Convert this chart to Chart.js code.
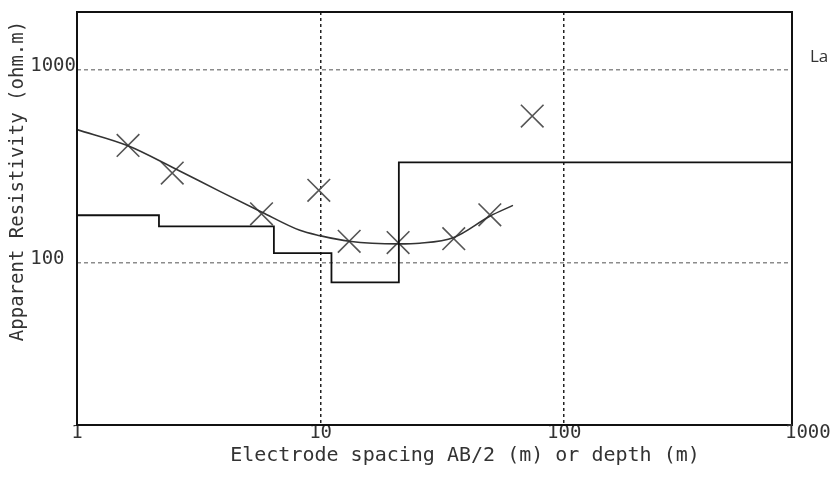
<!DOCTYPE html>
<html>
<head>
<meta charset="utf-8">
<script src="https://cdn.jsdelivr.net/npm/chart.js@4"></script>
<style>
  body { margin: 0; background: #fff; }
  #wrap { width: 834px; height: 487px; }
</style>
</head>
<body>
<div id="wrap"><canvas id="chart" width="834" height="487"></canvas></div>
<script>
// Field data (apparent resistivity vs AB/2)
const crossSpacing = [1.62, 2.46, 5.72, 9.83, 13.1, 20.8, 35.2, 49.5, 73.9]
const crossRho = [405, 291, 179, 237, 129, 127, 133, 177, 575]

// Fitted sounding curve
const curveSpacing = [1, 1.62, 2.46, 3.86, 5.72, 8.22, 9.92, 13.1, 20.8, 25.5, 35.2, 49.5, 61.6]
const curveRho = [489, 403, 312, 234, 183, 147, 138, 129, 125, 126, 135, 174, 198]

// Layer model: top depth of each layer and its resistivity
const layerDepth = [1, 2.17, 6.43, 11.08, 20.95, 1000]
const layerRho = [176, 154, 112, 79, 331, 331]

// Tick labels
const xTicks = [1, 10, 100, 1000]
const yTicks = [100, 1000]

const monoFont = "'DejaVu Sans Mono', monospace"
const textColor = "#333"

const toPoints = (xs, ys) => xs.map((x, i) => ({ x: x, y: ys[i] }))

// Titles, the frame and the tick that falls past the plot edge
const labelsPlugin = {
  id: "labels",
  afterDatasetsDraw(chart) {
    const { ctx, chartArea } = chart
    ctx.save()
    ctx.strokeStyle = "#111"
    ctx.lineWidth = 2
    ctx.strokeRect(chartArea.left, chartArea.top, chartArea.right - chartArea.left, chartArea.bottom - chartArea.top)
    ctx.restore()
  },
  afterDraw(chart) {
    const { ctx } = chart
    const xScale = chart.scales.x
    ctx.save()
    ctx.fillStyle = textColor
    ctx.textAlign = "center"
    ctx.textBaseline = "middle"

    ctx.font = "19px " + monoFont
    xTicks.filter((v) => v > xScale.max).forEach((v) => {
      ctx.fillText(String(v), xScale.getPixelForValue(v), 433)
    })

    ctx.font = "20px " + monoFont
    ctx.fillText("Electrode spacing AB/2 (m) or depth (m)", 465, 456)

    ctx.save()
    ctx.translate(18, 181)
    ctx.rotate(-Math.PI / 2)
    ctx.font = "19px " + monoFont
    ctx.fillText("Apparent Resistivity (ohm.m)", 0, 0)
    ctx.restore()

    ctx.textAlign = "left"
    ctx.font = "17px 'Open Sans', sans-serif"
    ctx.fillText("La", 810, 57)
    ctx.restore()
  },
}

new Chart(document.getElementById("chart"), {
  type: "scatter",
  data: {
    datasets: [
      {
        label: "Layers",
        type: "line",
        data: toPoints(layerDepth, layerRho),
        stepped: "before",
        borderColor: "#111",
        borderWidth: 1.8,
        pointRadius: 0,
        fill: false,
      },
      {
        label: "Model curve",
        type: "line",
        data: toPoints(curveSpacing, curveRho),
        cubicInterpolationMode: "monotone",
        borderColor: "#333",
        borderWidth: 1.6,
        pointRadius: 0,
        fill: false,
      },
      {
        label: "Field data",
        data: toPoints(crossSpacing, crossRho),
        pointStyle: "crossRot",
        pointRadius: 16,
        borderColor: "#555",
        borderWidth: 1.6,
      },
    ],
  },
  options: {
    responsive: false,
    animation: false,
    layout: {
      // the big cross markers would otherwise push the plot area down
      autoPadding: false,
      padding: { top: 12, right: 42, left: 0, bottom: 0 },
    },
    plugins: {
      legend: { display: false },
      tooltip: { enabled: false },
    },
    scales: {
      x: {
        type: "logarithmic",
        min: 1,
        max: 861,
        afterFit: (scale) => {
          scale.height = 62
          scale.paddingLeft = 0
          scale.paddingRight = 0
        },
        afterBuildTicks: (scale) => {
          scale.ticks = xTicks.filter((v) => v <= scale.max).map((v) => ({ value: v }))
        },
        ticks: {
          color: textColor,
          font: { family: monoFont, size: 19 },
          padding: -3,
          maxRotation: 0,
          callback: (v) => String(v),
        },
        grid: {
          drawTicks: false,
          lineWidth: 1.5,
          color: (ctx) => (ctx.tick && ctx.tick.value === 1 ? "rgba(0,0,0,0)" : "#222"),
        },
        border: { display: false, dash: [3, 3] },
      },
      y: {
        type: "logarithmic",
        min: 14.4,
        max: 1990,
        afterFit: (scale) => {
          scale.width = 77
          scale.paddingTop = 0
          scale.paddingBottom = 0
        },
        afterBuildTicks: (scale) => {
          scale.ticks = yTicks.map((v) => ({ value: v }))
        },
        ticks: {
          color: textColor,
          font: { family: monoFont, size: 19 },
          padding: 1,
          labelOffset: -4,
          // pad so the labels line up on the left like the original
          callback: (v) => String(v).padEnd(4, " "),
        },
        grid: {
          drawTicks: false,
          lineWidth: 1.5,
          color: "#8c8c8c",
        },
        border: { display: false, dash: [4, 3] },
      },
    },
  },
  plugins: [labelsPlugin],
})
</script>
</body>
</html>
